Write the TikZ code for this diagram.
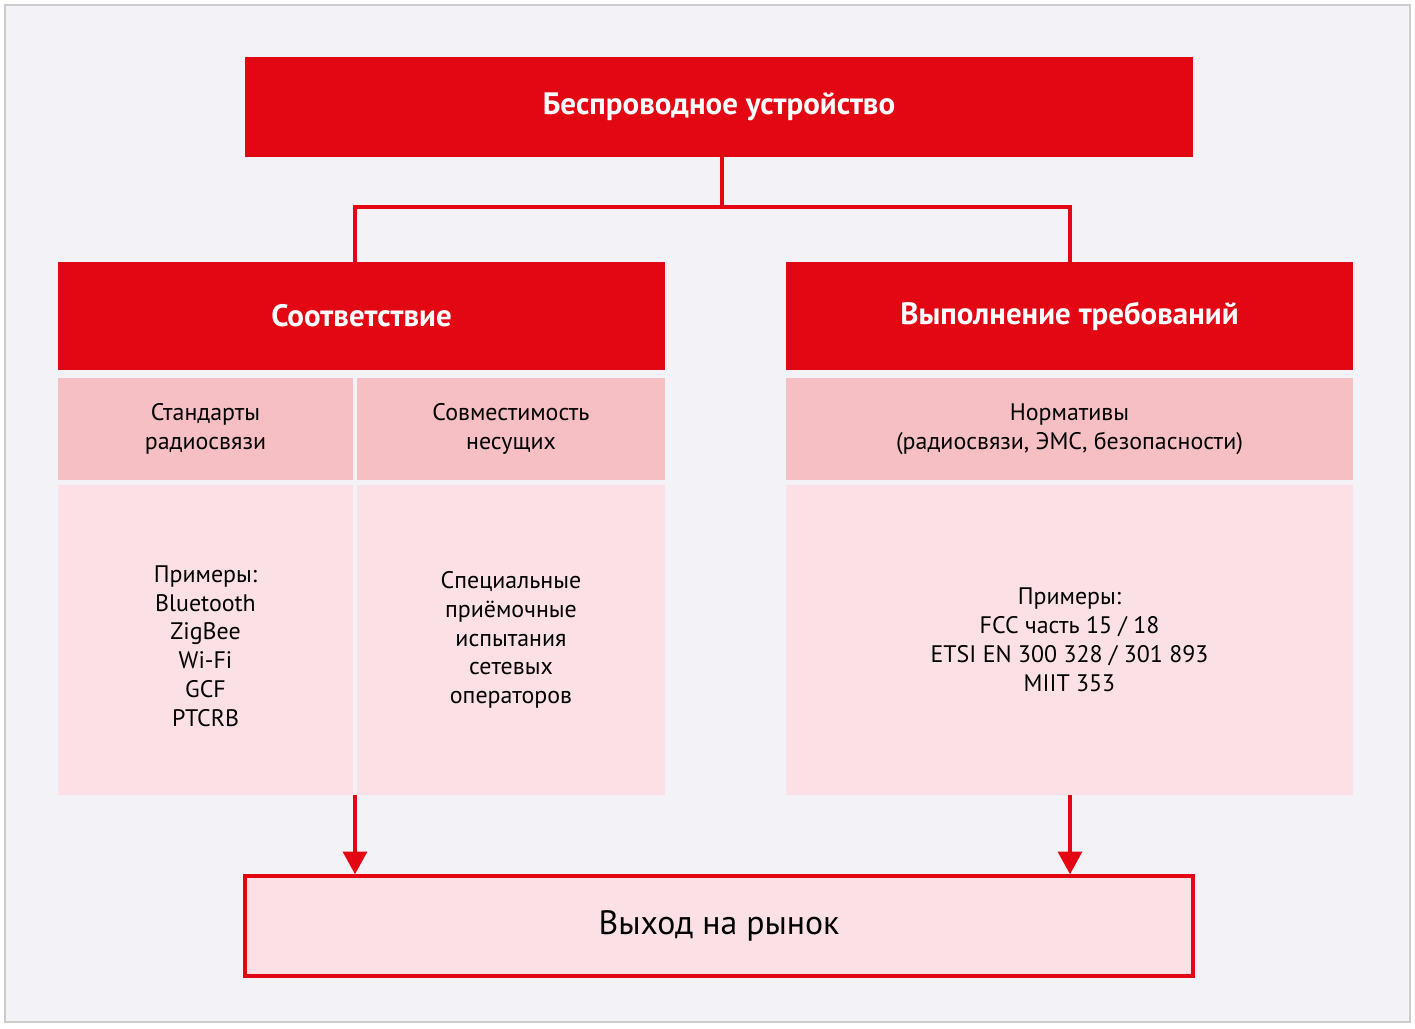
\documentclass[tikz,border=0pt]{standalone}
\usepackage{fontspec}
\setmainfont{PT Sans}
\usetikzlibrary{arrows.meta}
\definecolor{rred}{HTML}{E30613}
\definecolor{rpink}{HTML}{F6BFC3}
\definecolor{rlight}{HTML}{FBE1E5}
\definecolor{rback}{HTML}{F3F3F7}
\tikzset{
  head/.style={fill=rred, text=white, font=\fontsize{22}{26}\selectfont\bfseries, inner sep=0pt},
  sub/.style={fill=rpink, font=\fontsize{17}{20.5}\selectfont, align=center, inner sep=0pt},
  body/.style={fill=rlight, font=\fontsize{17}{20.5}\selectfont, align=center, inner sep=0pt},
  link/.style={draw=rred, line width=2.2pt},
  flow/.style={link, -{Triangle[length=16pt,width=17pt]}}
}
\begin{document}
\begin{tikzpicture}[x=0.025cm, y=-0.025cm]
    % background
    \fill[rback, draw=gray!40, line width=1pt] (5,5) rectangle (1410,1022);
    \useasboundingbox (0,0) rectangle (1415,1029);

    % top box
    \node[head, minimum width=948*0.025cm, minimum height=100*0.025cm] (device) at (719,107) {Беспроводное устройство};

    % headers
    \node[head, minimum width=607*0.025cm, minimum height=108*0.025cm] (conf) at (361.5,316) {Соответствие};
    \node[head, minimum width=567*0.025cm, minimum height=108*0.025cm] (req) at (1069.5,316) {Выполнение требований};

    % sub rows
    \node[sub, minimum width=295*0.025cm, minimum height=102*0.025cm] (std) at (205.5,429) {Стандарты\\радиосвязи};
    \node[sub, minimum width=308*0.025cm, minimum height=102*0.025cm] (comp) at (511,429) {Совместимость\\несущих};
    \node[sub, minimum width=567*0.025cm, minimum height=102*0.025cm] (norm) at (1069.5,429) {Нормативы\\(радиосвязи, ЭМС, безопасности)};

    % bodies
    \node[body, minimum width=295*0.025cm, minimum height=310*0.025cm] (ex1) at (205.5,640) {\\Примеры:\\Bluetooth\\ZigBee\\Wi-Fi\\GCF\\PTCRB};
    \node[body, minimum width=308*0.025cm, minimum height=310*0.025cm] (ex2) at (511,640) {Специальные\\приёмочные\\испытания\\сетевых\\операторов};
    \node[body, minimum width=567*0.025cm, minimum height=310*0.025cm] (ex3) at (1069.5,640) {Примеры:\\FCC часть 15 / 18\\ETSI EN 300 328 / 301 893\\MIIT 353};

    % market box
    \node[body, draw=rred, line width=2.5pt, minimum width=948*0.025cm, minimum height=100*0.025cm,
          font=\fontsize{24}{28}\selectfont] (market) at (719,926) {Выход на рынок};

    % connectors
    \coordinate (split) at (722,207);
    \draw[link] (device.south -| split) -- (split);
    \draw[link] (split) -| (conf.north -| 355,0);
    \draw[link] (split) -| (req.north -| 1070,0);
    \draw[flow] (ex1.south -| 355,0) -- (market.north -| 355,0);
    \draw[flow] (ex3.south -| 1070,0) -- (market.north -| 1070,0);
\end{tikzpicture}
\end{document}
